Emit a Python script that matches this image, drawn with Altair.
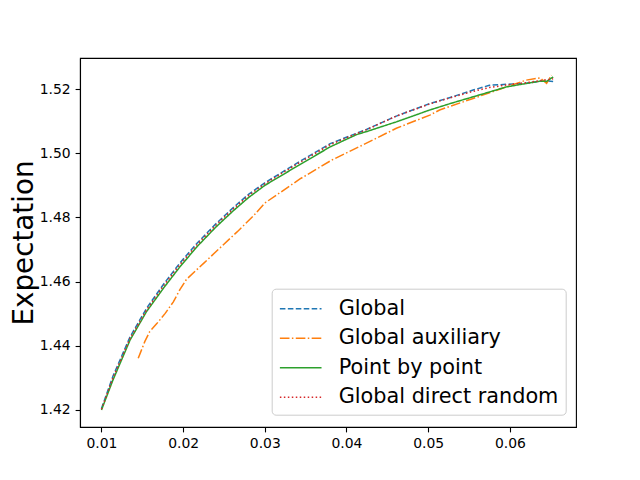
import altair as alt
import pandas as pd

series_names = ["Global", "Global auxiliary", "Point by point", "Global direct random"]
colors = ["#1f77b4", "#ff7f0e", "#2ca02c", "#d62728"]
dashes = [[5.55, 2.4], [9.6, 2.4, 1.5, 2.4], [1, 0], [1.5, 2.475]]

global_x = [0.0100, 0.0114, 0.0135, 0.0155, 0.0176, 0.0196, 0.0217, 0.0240, 0.0261, 0.0280,
            0.0300, 0.0343, 0.0380, 0.0412, 0.0425, 0.0461, 0.0502, 0.0527, 0.0555, 0.0575,
            0.0596, 0.0620, 0.0641, 0.0653]
global_y = [1.4205, 1.4305, 1.4428, 1.4516, 1.4592, 1.4658, 1.4720, 1.4780, 1.4830, 1.4872,
            1.4908, 1.4975, 1.5030, 1.5062, 1.5075, 1.5116, 1.5155, 1.5174, 1.5197, 1.5212,
            1.5215, 1.5218, 1.5226, 1.5224]

aux_x = [0.0145, 0.0153, 0.0159, 0.0168, 0.0178, 0.0188, 0.0196, 0.0204, 0.0225, 0.0245,
         0.0266, 0.0286, 0.0300, 0.0343, 0.0382, 0.0420, 0.0461, 0.0502, 0.0514, 0.0555,
         0.0596, 0.0620, 0.0637, 0.0645, 0.0651]
aux_y = [1.4361, 1.4413, 1.4444, 1.4470, 1.4501, 1.4537, 1.4575, 1.4607, 1.4657, 1.4705,
         1.4755, 1.4805, 1.4845, 1.4920, 1.4979, 1.5026, 1.5078, 1.5119, 1.5135, 1.5171,
         1.5207, 1.5228, 1.5235, 1.5218, 1.5244]

pbp_x = [0.0100, 0.0114, 0.0135, 0.0155, 0.0176, 0.0196, 0.0217, 0.0240, 0.0261, 0.0280,
         0.0300, 0.0343, 0.0380, 0.0412, 0.0425, 0.0461, 0.0502, 0.0527, 0.0555, 0.0596,
         0.0637, 0.0645, 0.0653]
pbp_y = [1.4200, 1.4293, 1.4418, 1.4506, 1.4580, 1.4646, 1.4709, 1.4770, 1.4820, 1.4862,
         1.4900, 1.4965, 1.5020, 1.5058, 1.5068, 1.5098, 1.5135, 1.5155, 1.5176, 1.5207,
         1.5225, 1.5224, 1.5238]

rand_x = [0.0100, 0.0114, 0.0135, 0.0155, 0.0176, 0.0196, 0.0217, 0.0240, 0.0261, 0.0280,
          0.0300, 0.0343, 0.0380, 0.0412, 0.0425, 0.0461, 0.0502, 0.0527, 0.0555, 0.0575,
          0.0596, 0.0620, 0.0641, 0.0653]
rand_y = [1.4202, 1.4300, 1.4423, 1.4511, 1.4587, 1.4653, 1.4715, 1.4776, 1.4826, 1.4868,
          1.4905, 1.4972, 1.5027, 1.5061, 1.5074, 1.5116, 1.5154, 1.5173, 1.5193, 1.5205,
          1.5213, 1.5220, 1.5228, 1.5232]

x_ticks = [0.01, 0.02, 0.03, 0.04, 0.05, 0.06]
y_ticks = [1.42, 1.44, 1.46, 1.48, 1.50, 1.52]

xs = [global_x, aux_x, pbp_x, rand_x]
ys = [global_y, aux_y, pbp_y, rand_y]
rows = []
for i, name in enumerate(series_names):
    for k, (a, b) in enumerate(zip(xs[i], ys[i])):
        rows.append({"series": name, "x": a, "y": b, "k": k})
df = pd.DataFrame(rows)

FONT = "DejaVu Sans"

xenc = alt.X("x:Q", scale=alt.Scale(domain=[0.00737, 0.0681], nice=False, zero=False),
             axis=alt.Axis(values=x_ticks, format=".2f", title=None))
yenc = alt.Y("y:Q", scale=alt.Scale(domain=[1.4147, 1.5297], nice=False, zero=False),
             axis=alt.Axis(values=y_ticks, format=".2f", title="Expectation",
                           titleX=-48, titleY=184.5, titleAngle=270,
                           titleBaseline="alphabetic", titleAlign="center",
                           titleFontSize=27.8, titleFontWeight="normal",
                           titleColor="black", titleFont=FONT))
cenc = alt.Color("series:N", scale=alt.Scale(domain=series_names, range=colors),
                 legend=alt.Legend(title=None, orient="none", legendX=191.7, legendY=230.7,
                                   labelFontSize=20.8, labelFont=FONT, labelColor="black",
                                   labelLimit=400,
                                   symbolType="M-1.7,0L1.7,0", symbolSize=600,
                                   symbolStrokeWidth=1.5, symbolOffset=9,
                                   labelOffset=25, padding=7, rowPadding=6.5,
                                   strokeColor="#cccccc", cornerRadius=4,
                                   fillColor="rgba(255,255,255,0.8)"))
denc = alt.StrokeDash("series:N", scale=alt.Scale(domain=series_names, range=dashes))

layers = []
for name in series_names:
    layers.append(
        alt.Chart(df).transform_filter(alt.datum.series == name)
        .mark_line(strokeWidth=1.5, strokeCap="butt")
        .encode(x=xenc, y=yenc, color=cenc, strokeDash=denc, order="k:Q")
    )

chart = alt.layer(*layers).properties(
    width=496, height=369,
    autosize=alt.AutoSizeParams(type="none"),
    padding={"left": 72, "top": 50, "right": 50, "bottom": 45},
).configure_view(stroke="black", strokeWidth=1.1).configure_axis(
    grid=False, domainColor="black", domainWidth=1.1, tickColor="black", tickWidth=1.1,
    tickSize=4.9, labelPadding=4.9, labelFontSize=13.9, labelFont=FONT, labelColor="black"
)

chart.save("out.html", embed_options={"renderer": "svg", "actions": False})
